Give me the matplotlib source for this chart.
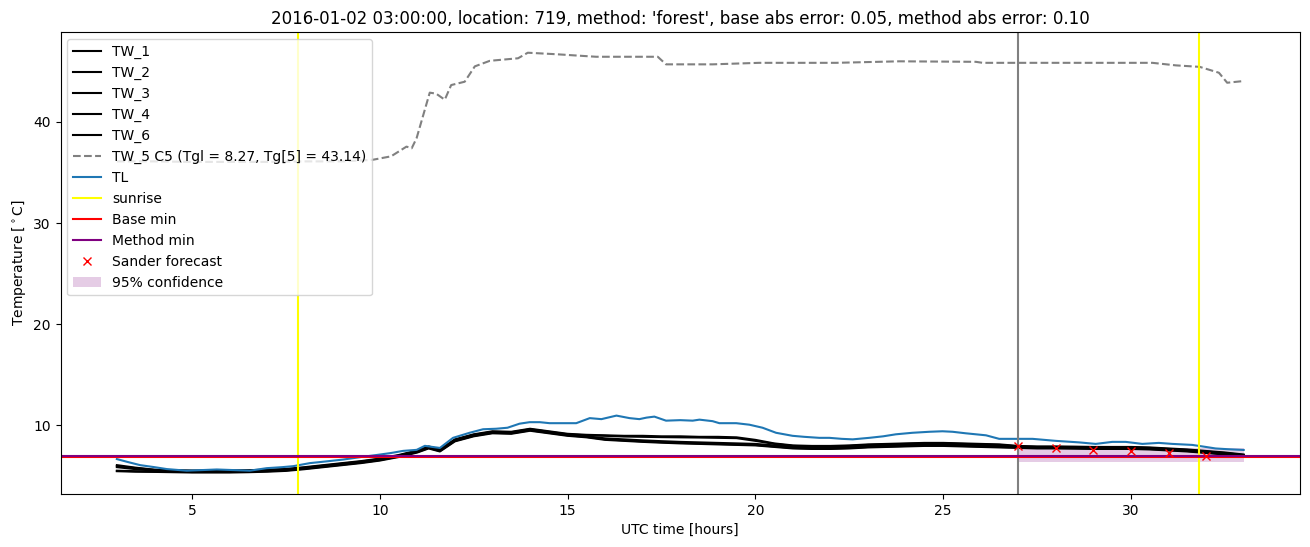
import matplotlib
matplotlib.use("Agg")
import matplotlib.pyplot as plt

title = "2016-01-02 03:00:00, location: 719, method: 'forest', base abs error: 0.05, method abs error: 0.10"

tw_hours = [3, 3.5, 4, 4.5, 5, 5.5, 6, 6.5, 7, 7.5, 8, 8.5, 9, 9.5, 10, 10.5, 11, 11.3, 11.6, 12,
            12.5, 13, 13.5, 14, 14.5, 15, 15.5, 16, 16.5, 17, 17.5, 18, 18.5, 19, 19.5, 20,
            20.5, 21, 21.5, 22, 22.5, 23, 23.5, 24, 24.5, 25, 25.5, 26, 26.5, 27, 27.5, 28,
            28.5, 29, 29.5, 30, 30.5, 31, 31.5, 32, 32.5, 33]

tw_1 = [6.05, 5.8, 5.6, 5.55, 5.52, 5.52, 5.52, 5.55, 5.6, 5.68, 5.85, 6.05, 6.25, 6.45, 6.7, 7.05,
        7.5, 7.9, 7.6, 8.6, 9.1, 9.4, 9.35, 9.65, 9.4, 9.15, 9.05, 9.0, 8.95, 8.95, 8.9, 8.9, 8.85,
        8.85, 8.8, 8.55, 8.2, 8.0, 7.95, 7.95, 8.0, 8.1, 8.15, 8.2, 8.25, 8.25, 8.2, 8.15, 8.1, 7.95,
        7.9, 7.9, 7.88, 7.85, 7.85, 7.85, 7.8, 7.7, 7.6, 7.45, 7.3, 7.1]
tw_2 = [5.95, 5.75, 5.58, 5.5, 5.47, 5.47, 5.47, 5.5, 5.55, 5.63, 5.8, 6.0, 6.2, 6.4, 6.65, 7.0,
        7.45, 7.85, 7.55, 8.55, 9.05, 9.35, 9.3, 9.6, 9.35, 9.1, 9.0, 8.95, 8.88, 8.85, 8.82, 8.8,
        8.78, 8.75, 8.72, 8.45, 8.15, 7.95, 7.9, 7.9, 7.95, 8.05, 8.1, 8.15, 8.2, 8.2, 8.15, 8.1,
        8.05, 7.9, 7.85, 7.85, 7.83, 7.8, 7.8, 7.8, 7.75, 7.65, 7.55, 7.4, 7.25, 7.05]
tw_3 = [5.85, 5.65, 5.5, 5.45, 5.42, 5.42, 5.42, 5.45, 5.5, 5.58, 5.75, 5.95, 6.15, 6.35, 6.6, 6.95,
        7.4, 7.8, 7.5, 8.5, 9.0, 9.3, 9.25, 9.55, 9.3, 9.05, 8.9, 8.7, 8.6, 8.5, 8.42, 8.35, 8.3,
        8.25, 8.2, 8.15, 8.0, 7.85, 7.8, 7.8, 7.85, 7.95, 8.0, 8.05, 8.1, 8.1, 8.05, 8.0, 7.95,
        7.85, 7.8, 7.8, 7.78, 7.75, 7.75, 7.75, 7.7, 7.6, 7.5, 7.35, 7.2, 7.0]
tw_4 = [5.5, 5.45, 5.42, 5.4, 5.37, 5.37, 5.37, 5.4, 5.45, 5.53, 5.7, 5.9, 6.1, 6.3, 6.55, 6.9,
        7.35, 7.75, 7.45, 8.45, 8.95, 9.25, 9.2, 9.5, 9.25, 9.0, 8.85, 8.6, 8.5, 8.4, 8.32, 8.25,
        8.2, 8.15, 8.1, 8.05, 7.9, 7.75, 7.7, 7.7, 7.75, 7.85, 7.9, 7.95, 8.0, 8.0, 7.95, 7.9,
        7.85, 7.8, 7.75, 7.75, 7.73, 7.7, 7.7, 7.7, 7.65, 7.55, 7.45, 7.3, 7.15, 6.95]
tw_6 = [5.45, 5.4, 5.38, 5.35, 5.32, 5.32, 5.32, 5.35, 5.4, 5.48, 5.65, 5.85, 6.05, 6.25, 6.5, 6.85,
        7.3, 7.7, 7.4, 8.4, 8.9, 9.2, 9.15, 9.45, 9.2, 8.95, 8.8, 8.55, 8.45, 8.35, 8.27, 8.2,
        8.15, 8.1, 8.05, 8.0, 7.85, 7.7, 7.65, 7.65, 7.7, 7.8, 7.85, 7.9, 7.95, 7.95, 7.9, 7.85,
        7.8, 7.75, 7.7, 7.7, 7.68, 7.65, 7.65, 7.65, 7.6, 7.5, 7.4, 7.25, 7.1, 6.9]

tw5_hours = [3.0, 4.0, 5.0, 6.0, 7.0, 8.0, 9.0, 9.8, 10.3, 10.71, 10.85, 10.98, 11.33, 11.5, 11.73,
             11.9, 12.26, 12.53, 12.93, 13.68, 13.94, 14.7, 15.76, 17.4, 17.62, 18.86, 20.1,
             22.15, 23.83, 25.87, 26.05, 30.57, 31.19, 31.83, 32.34, 32.56, 32.87, 33.0]
tw_5 = [36.1, 36.1, 36.05, 36.05, 36.05, 36.1, 36.1, 36.25, 36.6, 37.56, 37.4, 38.4, 42.9, 42.8, 42.2,
        43.65, 43.98, 45.5, 46.05, 46.3, 46.85, 46.7, 46.45, 46.45, 45.7, 45.7, 45.85,
        45.85, 46.0, 45.95, 45.85, 45.85, 45.6, 45.45, 44.87, 43.88, 44.0, 44.05]

tl_hours = [3.0, 3.3, 3.62, 4.0, 4.33, 4.86, 5.2, 5.66, 6.1, 6.54, 6.99, 7.4, 7.7, 8.14, 8.4, 9.02,
            9.5, 9.91, 10.3, 10.62, 10.98, 11.2, 11.4, 11.6, 11.95, 12.39, 12.75, 13.1, 13.4,
            13.72, 13.99, 14.26, 14.52, 15.23, 15.59, 15.9, 16.3, 16.65, 16.91, 17.1, 17.31,
            17.62, 18.0, 18.33, 18.51, 18.86, 19.04, 19.49, 19.84, 20.19, 20.55, 20.99, 21.3,
            21.7, 21.97, 22.3, 22.59, 23.03, 23.4, 23.74, 24.18, 24.63, 24.98, 25.25, 25.6,
            26.14, 26.49, 26.93, 27.38, 28.0, 28.62, 29.06, 29.5, 29.86, 30.3, 30.74, 31.1,
            31.63, 31.99, 32.25, 32.6, 33.0]
tl = [6.65, 6.35, 6.05, 5.85, 5.66, 5.5, 5.55, 5.62, 5.56, 5.5, 5.75, 5.85, 5.95, 6.25, 6.35, 6.6,
      6.85, 7.05, 7.25, 7.46, 7.56, 7.96, 7.85, 7.75, 8.75, 9.25, 9.6, 9.65, 9.75,
      10.15, 10.3, 10.3, 10.2, 10.2, 10.7, 10.6, 10.95, 10.7, 10.6, 10.75, 10.85,
      10.45, 10.5, 10.45, 10.55, 10.4, 10.2, 10.2, 10.05, 9.75, 9.25, 8.95, 8.85,
      8.75, 8.75, 8.65, 8.6, 8.75, 8.9, 9.1, 9.25, 9.35, 9.4, 9.35, 9.2,
      9.0, 8.65, 8.65, 8.65, 8.45, 8.3, 8.15, 8.35, 8.35, 8.15, 8.25, 8.15,
      8.05, 7.85, 7.7, 7.62, 7.55]

sunrise_hours = [7.82, 31.82]
forecast_start = 27.0
base_min = 6.9
method_min = 6.92

sander_hours = [27, 28, 29, 30, 31, 32]
sander_values = [7.93, 7.73, 7.53, 7.43, 7.24, 6.94]

conf_hours = [27, 33]
conf_low = [6.32, 6.32]
conf_high = [7.75, 7.75]

fig = plt.figure(figsize=(13.1, 5.47), dpi=100)
ax = fig.add_axes([0.0462, 0.097, 0.9462, 0.8445])

for name, vals in [("TW_1", tw_1), ("TW_2", tw_2), ("TW_3", tw_3), ("TW_4", tw_4), ("TW_6", tw_6)]:
    ax.plot(tw_hours, vals, color="black", label=name)
ax.plot(tw5_hours, tw_5, color="grey", linestyle="--", label="TW_5 C5 (Tgl = 8.27, Tg[5] = 43.14)")
ax.plot(tl_hours, tl, color="tab:blue", label="TL")
ax.axvline(sunrise_hours[0], color="yellow", label="sunrise")
ax.axvline(sunrise_hours[1], color="yellow")
ax.axvline(forecast_start, color="grey")
ax.axhline(base_min, color="red", label="Base min")
ax.axhline(method_min, color="purple", label="Method min")
ax.plot(sander_hours, sander_values, "x", color="red", linestyle="none", label="Sander forecast")
ax.fill_between(conf_hours, conf_low, conf_high, color="purple", alpha=0.2, linewidth=0,
                label="95% confidence")

ax.set_xlim(1.5, 34.5)
ax.set_ylim(3.2, 48.9)
ax.set_title(title)
ax.set_xlabel("UTC time [hours]")
ax.set_ylabel(r"Temperature [$^\circ$C]")
ax.legend(loc="upper left")

fig.savefig("out.png", dpi=100)
